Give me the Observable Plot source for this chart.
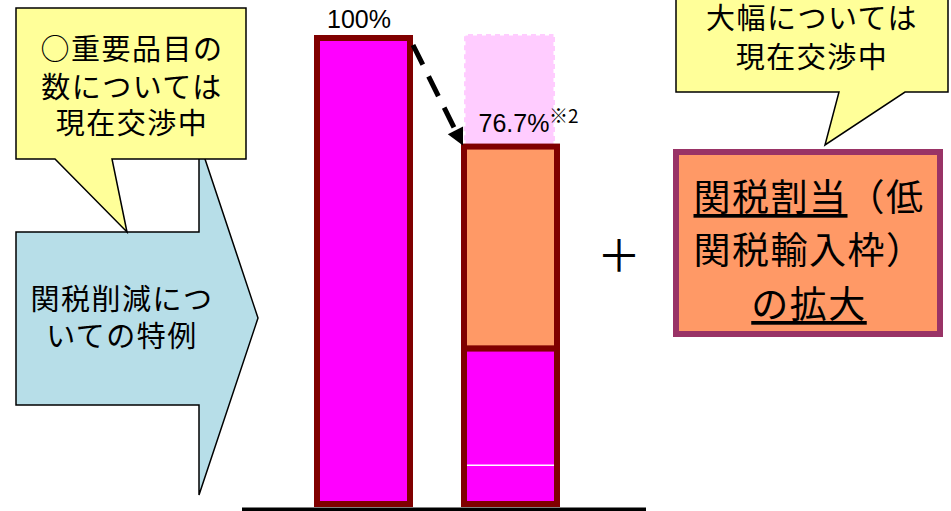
<!DOCTYPE html>
<html><head><meta charset="utf-8">
<script src="https://cdn.jsdelivr.net/npm/d3@7"></script>
<script src="https://cdn.jsdelivr.net/npm/@observablehq/plot@0.6"></script>
<style>html,body{margin:0;padding:0;background:#fff;} #chart svg{display:block;}</style>
</head><body><div id="chart"></div>
<script>
// ---- data ----
const categories = ["削減前", "削減後"];
const barTotals = [100, 76.7];
const rightLowerValue = 33.4;
const rightLineValue = 8.4;
const barLabels = ["100%", "76.7%"];
const noteMark = "※2";
const leftCalloutLines = ["○重要品目の", "数については", "現在交渉中"];
const arrowLines = ["関税削減につ", "いての特例"];
const rightCalloutLines = ["大幅については", "現在交渉中"];
const boxLines = [
  [["関税割当", true], ["（低", false]],
  [["関税輸入枠）", false]],
  [["の拡大", true]]
];
const plusSign = "＋";

// ---- derived tables ----
const leftBar = [{cat: categories[0], y1: 0, y2: barTotals[0]}];
const rightSegs = [
  {cat: categories[1], y1: 0, y2: rightLowerValue, fill: "#FF00FF"},
  {cat: categories[1], y1: rightLowerValue, y2: barTotals[1], fill: "#FF9966"}
];
const ghost = [{cat: categories[1], y1: barTotals[1], y2: barTotals[0]}];
const labels = [
  {cat: categories[0], y: barTotals[0], text: barLabels[0]},
  {cat: categories[1], y: barTotals[1], text: barLabels[1]}
];

const FONT = "'Noto Sans CJK JP', 'Noto Sans', sans-serif";
const NUMFONT = "'Liberation Sans', Arial, sans-serif";

const chart = Plot.plot({
  width: 951, height: 511,
  marginLeft: 242, marginRight: 305, marginTop: 0, marginBottom: 0,
  x: {type: "band", domain: categories, paddingInner: 0.324, paddingOuter: 0.527, align: 0.455, axis: null},
  y: {domain: [0, 100], range: [504, 38], axis: null},
  color: {type: "identity"},
  style: {fontFamily: FONT, background: "white", overflow: "visible"},
  marks: [
    Plot.barY(ghost, {x: "cat", y1: "y1", y2: "y2", fill: "#FFCCFF", stroke: "white", strokeWidth: 3, strokeDasharray: "4,5", insetLeft: 3, insetRight: 5, insetTop: -4}),
    Plot.barY(leftBar, {x: "cat", y1: "y1", y2: "y2", fill: "#FF00FF", stroke: "#800000", strokeWidth: 6, insetLeft: 3, insetRight: 3}),
    Plot.barY(rightSegs, {x: "cat", y1: "y1", y2: "y2", fill: "fill", stroke: "#800000", strokeWidth: 6, insetLeft: 3, insetRight: 3}),
    Plot.tickY([{cat: categories[1], y: rightLineValue}], {x: "cat", y: "y", stroke: "white", strokeWidth: 1.5, insetLeft: 6, insetRight: 6}),
    Plot.ruleY([0], {stroke: "black", strokeWidth: 4, dy: 5}),
    Plot.text(labels.slice(0, 1), {x: "cat", y: "y", text: "text", dy: -19, dx: -5, fontSize: 25, fontFamily: NUMFONT, fill: "black"}),
    Plot.text(labels.slice(1), {x: "cat", y: "y", text: "text", dy: -23, dx: 3, fontSize: 25, fontFamily: NUMFONT, fill: "black"}),
    Plot.text(labels.slice(1), {x: "cat", y: "y", text: () => noteMark, dy: -30, dx: 38, textAnchor: "start", fontSize: 19, fill: "black"})
  ]
});
document.getElementById("chart").appendChild(chart);

// ---- annotations ----
const svg = d3.select(chart);
const xs = chart.scale("x"), ys = chart.scale("y");
const g = svg.append("g");

function addLines(parent, lines, cx, cys, size, spacing) {
  lines.forEach((line, i) => {
    parent.append("text")
      .attr("x", cx).attr("y", cys[i])
      .attr("text-anchor", "middle")
      .attr("dominant-baseline", "central")
      .attr("font-family", FONT)
      .attr("font-size", size)
      .attr("letter-spacing", spacing)
      .attr("fill", "black")
      .text(line);
  });
}

// blue arrow
g.append("path")
  .attr("d", "M16,232 H199 V141 L258,318 L199,495 V405 H16 Z")
  .attr("fill", "#B7DEE8").attr("stroke", "black").attr("stroke-width", 1.5);
addLines(g, arrowLines, 122, [297, 334], 29, 1.5);

// left yellow callout
g.append("path")
  .attr("d", "M16,8 H246 V159 H112 L127,232 L55,159 H16 Z")
  .attr("fill", "#FFFF99").attr("stroke", "black").attr("stroke-width", 1.5);
addLines(g, leftCalloutLines, 132, [47, 85, 121], 29, 1.5);

// right yellow callout
g.append("path")
  .attr("d", "M676,-5 H948 V92 H905 L825,145 L839,92 H676 Z")
  .attr("fill", "#FFFF99").attr("stroke", "black").attr("stroke-width", 1.5);
addLines(g, rightCalloutLines, 812, [16, 55], 29, 1.5);

// orange box
g.append("rect")
  .attr("x", 676).attr("y", 152).attr("width", 264).attr("height", 182)
  .attr("fill", "#FF9966").attr("stroke", "#993366").attr("stroke-width", 6);
const boxY = [195, 248, 302];
boxLines.forEach((parts, i) => {
  const t = g.append("text")
    .attr("x", 809).attr("y", boxY[i])
    .attr("text-anchor", "middle")
    .attr("dominant-baseline", "central")
    .attr("font-family", FONT)
    .attr("font-size", 37)
    .attr("letter-spacing", 1.5)
    .attr("fill", "black");
  parts.forEach(([s, u]) => {
    const ts = t.append("tspan").text(s);
    if (u) ts.attr("text-decoration", "underline").style("text-decoration", "underline");
  });
});

// plus sign
g.append("text")
  .attr("x", 619).attr("y", 253)
  .attr("text-anchor", "middle").attr("dominant-baseline", "central")
  .attr("font-family", FONT).attr("font-size", 44).attr("fill", "black")
  .text(plusSign);

// dashed arrow between bars (positions from the scales)
const x0 = xs.apply(categories[0]) + xs.bandwidth, y0 = ys.apply(barTotals[0]) + 7;
const x1 = xs.apply(categories[1]) + 2, y1 = ys.apply(barTotals[1]) - 1;
const dx = x1 - x0, dy = y1 - y0, len = Math.hypot(dx, dy);
const ux = dx / len, uy = dy / len;
const headL = 17, headW = 8.5;
const bx = x1 - ux * headL, by = y1 - uy * headL;
g.append("line")
  .attr("x1", x0).attr("y1", y0).attr("x2", bx + ux * 2).attr("y2", by + uy * 2)
  .attr("stroke", "black").attr("stroke-width", 5).attr("stroke-dasharray", "22,13");
g.append("path")
  .attr("d", `M${x1},${y1} L${bx - uy * headW},${by + ux * headW} L${bx + uy * headW},${by - ux * headW} Z`)
  .attr("fill", "black");
</script>
</body></html>
